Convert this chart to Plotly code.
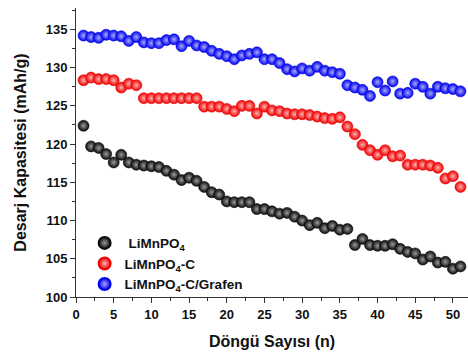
import plotly.graph_objects as go

cycles = list(range(1, 52))

limnpo4 = [122.4, 119.7, 119.5, 118.7, 117.6, 118.6, 117.6, 117.3, 117.2, 117.1,
           117.0, 116.5, 116.0, 115.3, 115.6, 115.2, 114.4, 113.7, 113.4, 112.5,
           112.4, 112.4, 112.4, 111.5, 111.5, 111.2, 110.9, 111.0, 110.5, 110.0,
           109.4, 109.7, 109.0, 109.3, 108.8, 108.9, 106.8, 107.6, 106.8, 106.7,
           106.7, 106.9, 106.3, 105.9, 105.7, 104.9, 105.3, 104.5, 104.6, 103.7,
           104.0]

limnpo4_c = [128.35, 128.7, 128.5, 128.5, 128.35, 127.4, 127.9, 127.7, 126.0, 126.0,
             126.0, 126.0, 126.0, 126.0, 126.0, 126.0, 124.9, 124.9, 124.9, 124.6,
             124.3, 125.0, 125.0, 124.0, 124.9, 124.4, 124.3, 124.0, 123.9, 123.9,
             123.8, 123.6, 123.4, 123.3, 123.5, 122.3, 121.3, 119.9, 119.2, 118.6,
             119.2, 118.4, 118.5, 117.3, 117.3, 117.3, 117.2, 116.9, 115.5, 115.8,
             114.4]

limnpo4_c_grafen = [134.2, 134.0, 133.9, 134.3, 134.2, 134.1, 133.5, 134.0, 133.3, 133.2,
                    133.2, 133.6, 133.7, 132.8, 133.5, 132.9, 132.7, 132.2, 131.8, 131.5,
                    131.1, 131.6, 131.8, 132.0, 131.1, 131.1, 130.6, 129.8, 129.5, 129.9,
                    129.6, 130.1, 129.6, 129.4, 129.2, 127.7, 127.4, 127.1, 126.3, 128.1,
                    127.0, 128.2, 126.6, 126.7, 127.9, 127.5, 126.6, 127.5, 127.3, 127.2,
                    126.9]

names = ["&#160;<b>LiMnPO<sub>4</sub></b>", "<b>LiMnPO<sub>4</sub>-C</b>", "<b>LiMnPO<sub>4</sub>-C/Grafen</b>"]
colors = ["#0a0a0a", "#ee0000", "#0000ee"]
highlights = ["#9a9a9a", "#ffb0b0", "#a8a8ff"]

fig = go.Figure()
for ys, nm, c, h in zip([limnpo4, limnpo4_c, limnpo4_c_grafen], names, colors, highlights):
    fig.add_trace(go.Scatter(
        x=cycles, y=ys, mode="markers", name=nm,
        marker=dict(size=11, color=c, line=dict(width=0.6, color=c),
                    gradient=dict(type="radial", color=h)),
    ))

FF = "Liberation Sans, Arial, sans-serif"
axis_font = dict(family=FF, size=13, color="#111")
xt = [0, 5, 10, 15, 20, 25, 30, 35, 40, 45, 50]
yt = [100, 105, 110, 115, 120, 125, 130, 135]
fig.update_layout(
    width=468, height=359,
    margin=dict(l=76, r=0, t=8, b=62, autoexpand=False),
    paper_bgcolor="white", plot_bgcolor="white",
    font=dict(family=FF, color="#111"),
    showlegend=True,
    legend=dict(x=0.022, y=0.24, xanchor="left", yanchor="top",
                bgcolor="rgba(0,0,0,0)", tracegroupgap=0,
                font=dict(family=FF, size=13.5, color="#111"),
                itemsizing="constant"),
    xaxis=dict(range=[0, 52], tickvals=xt, ticktext=["<b>%d</b>" % v for v in xt],
               ticks="outside", ticklen=5, tickwidth=1, tickcolor="#333",
               minor=dict(dtick=2.5, tick0=0, ticks="outside", ticklen=3, tickcolor="#333"),
               showline=True, linecolor="#333", linewidth=1, showgrid=False, zeroline=False,
               tickfont=axis_font, automargin=False,
               title=dict(text="<b>Döngü Sayısı (n)</b>", font=dict(size=16, family=FF, color="#111"))),
    yaxis=dict(range=[100, 137.8], tickvals=yt, ticktext=["<b>%d</b>" % v for v in yt],
               ticks="outside", ticklen=5, tickwidth=1, tickcolor="#333",
               minor=dict(dtick=2.5, tick0=100, ticks="outside", ticklen=3, tickcolor="#333"),
               showline=True, linecolor="#333", linewidth=1, showgrid=False, zeroline=False,
               tickfont=axis_font, automargin=False,
               title=dict(text="<b>Desarj Kapasitesi (mAh/g)</b>", font=dict(size=16, family=FF, color="#111"))),
)

fig.write_html("out.html")
